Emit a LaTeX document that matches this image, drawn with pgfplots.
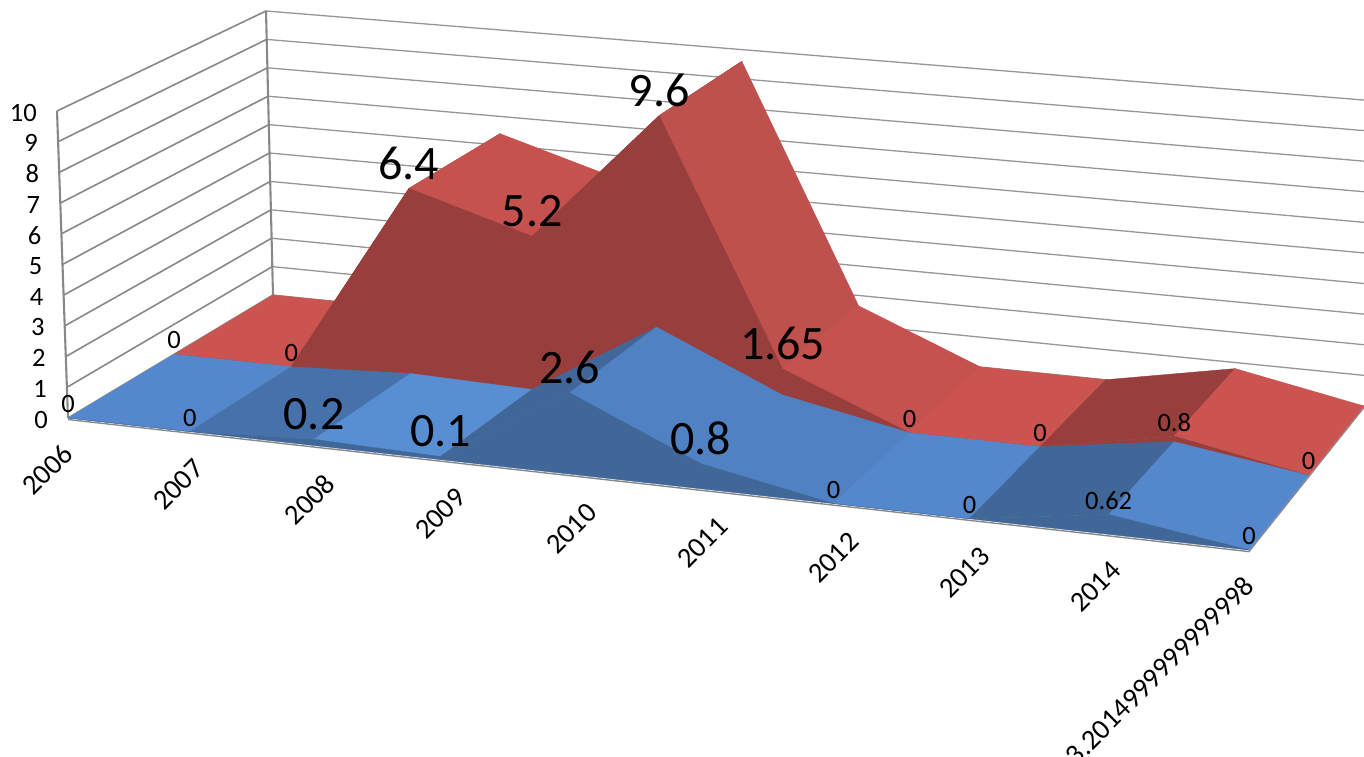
\documentclass[border=0pt]{standalone}
\usepackage{fontspec}
\setmainfont{Carlito}
\usepackage{pgfplots}
\usepackage{pgfplotstable}
\pgfplotsset{compat=1.18}

% values per category; the big columns say which data labels are set large
\pgfplotstableread{
i blue red bluebig redbig
0 0    0    0 0
1 0    0    0 0
2 0.2  6.4  1 1
3 0.1  5.2  1 1
4 2.6  9.6  1 1
5 0.8  1.65 1 1
6 0    0    0 0
7 0    0    0 0
8 0.62 0.8  0 0
9 0    0    0 0
}\chartdata

\definecolor{gridc}{RGB}{150,150,150}
\definecolor{sidec}{RGB}{136,136,136}
\definecolor{rFlat}{RGB}{203,84,80}
\definecolor{rMid}{RGB}{198,82,79}
\definecolor{rDown}{RGB}{190,80,78}
\definecolor{rUp}{RGB}{152,63,62}
\definecolor{bFlat}{RGB}{84,135,203}
\definecolor{bLight}{RGB}{88,142,210}
\definecolor{bDown}{RGB}{80,130,195}
\definecolor{bSoft}{RGB}{70,113,170}
\definecolor{bUp}{RGB}{65,103,153}

% category (0-9), depth (0 front, 1 back), value -> \px \py in picture pixels
\newcommand\proj[3]{%
  \pgfmathsetmacro\uu{#1/9}%
  \pgfmathsetmacro\tu{\uu/(\uu+1.085*(1-\uu))}%
  \pgfmathsetmacro\kaa{(1-\tu)*(1-#2)}%
  \pgfmathsetmacro\kba{\tu*(1-#2)}%
  \pgfmathsetmacro\kab{(1-\tu)*(#2)}%
  \pgfmathsetmacro\kbb{\tu*(#2)}%
  \pgfmathsetmacro\sv{#3/10}%
  \pgfmathsetmacro\px{\kaa*68+\kba*1249+\kab*273+\kbb*1364+\sv*(-11*\kaa+18*\kba-7*\kab+24*\kbb)}%
  \pgfmathsetmacro\py{\kaa*418+\kba*550+\kab*295+\kbb*406-\sv*(307*\kaa+320*\kba+284*\kab+304*\kbb)}%
}
\newcommand\addpt[3]{\proj{#1}{#2}{#3}\xdef\coords{\coords(\px,\py)}}
\newcommand\getval[2]{\pgfplotstablegetelem{#1}{#2}\of\chartdata\let\val\pgfplotsretval}

% top of a ribbon, segment by segment, then its front face
\newcommand\ribbon[5]{% column, front depth, back depth, colours, front colour
  \foreach \j/\col in {#4}{%
    \pgfmathtruncatemacro\jn{\j+1}%
    \getval{\j}{#1}\let\va\val
    \getval{\jn}{#1}\let\vb\val
    \gdef\coords{}%
    \addpt{\j}{#2}{\va}\addpt{\jn}{#2}{\vb}\addpt{\jn}{#3}{\vb}\addpt{\j}{#3}{\va}%
    \edef\temp{\noexpand\addplot[fill=\col,draw=\col,line width=0.4pt] coordinates {\coords} --cycle;}%
    \temp
  }%
  \gdef\coords{}%
  \addpt{0}{#2}{0}%
  \foreach \j in {0,...,9}{\getval{\j}{#1}\addpt{\j}{#2}{\val}}%
  \addpt{9}{#2}{0}%
  \edef\temp{\noexpand\addplot[fill=#5,draw=#5,line width=0.4pt] coordinates {\coords} --cycle;}%
  \temp
}
\newcommand\vlabels[3]{% column, flag column, depth
  \foreach \j in {0,...,9}{%
    \getval{\j}{#1}\let\va\val
    \getval{\j}{#2}\let\vf\val
    \proj{\j}{#3}{\va}%
    \ifnum\vf=1
      \edef\temp{\noexpand\node[inner sep=0pt,yshift=25pt,font=\noexpand\fontsize{48}{48}\noexpand\selectfont] at (axis cs:\px,\py) {\va};}%
    \else
      \edef\temp{\noexpand\node[inner sep=0pt,yshift=14pt,font=\noexpand\fontsize{26.5}{26.5}\noexpand\selectfont] at (axis cs:\px,\py) {\va};}%
    \fi
    \temp
  }%
}

\begin{document}
\begin{tikzpicture}
\path[use as bounding box,clip] (0,0) rectangle (1364pt,756pt);
\begin{axis}[
    at={(0,0)},
    anchor=south west,
    width=1364pt,
    height=756pt,
    scale only axis,
    xmin=0,xmax=1364,
    ymin=0,ymax=756,
    y dir=reverse,
    hide axis,
    clip=true,
]

% walls
\foreach \z in {0,...,10}{%
  \gdef\coords{}\addpt{0}{1}{\z}\addpt{9}{1}{\z}%
  \edef\temp{\noexpand\addplot[gridc,line width=1.3pt] coordinates {\coords};}\temp
  \gdef\coords{}\addpt{0}{0}{\z}\addpt{0}{1}{\z}%
  \edef\temp{\noexpand\addplot[sidec,line width=1.6pt] coordinates {\coords};}\temp
  \proj{0}{0}{\z}%
  \edef\temp{\noexpand\node[anchor=east,inner sep=0pt,xshift=-20pt,yshift=-1.5pt,font=\noexpand\fontsize{26.5}{26.5}\noexpand\selectfont] at (axis cs:\px,\py) {\z};}\temp
}
\gdef\coords{}\addpt{0}{0}{0}\addpt{0}{0}{10}
\edef\temp{\noexpand\addplot[sidec,line width=2.1pt] coordinates {\coords};}\temp
\gdef\coords{}\addpt{0}{1}{0}\addpt{0}{1}{10}
\edef\temp{\noexpand\addplot[sidec,line width=2.1pt] coordinates {\coords};}\temp

% floor edge, just under the ribbons
\gdef\coords{}\addpt{0}{0}{-0.05}\addpt{9}{0}{-0.05}\addpt{9}{0.02}{-0.05}\addpt{9}{1}{-0.05}
\edef\temp{\noexpand\addplot[sidec,line width=1.4pt] coordinates {\coords};}\temp

\ribbon{red}{0.518}{1}{0/rFlat,1/rUp,2/rMid,3/rUp,4/rDown,5/rMid,6/rFlat,7/rUp,8/rFlat}{rUp}
\ribbon{blue}{0}{0.518}{0/bFlat,1/bSoft,2/bLight,3/bUp,4/bDown,5/bDown,6/bFlat,7/bUp,8/bFlat}{bUp}

\vlabels{red}{redbig}{0.518}
\vlabels{blue}{bluebig}{0}

% category labels sit at even steps under the front edge
\foreach \n/\x/\y/\lab in {0/68/449/2006,1/199/464/2007,2/330/479/2008,3/461/493/2009,4/592/508/2010,5/723/522/2011,6/854/537/2012,7/985/552/2013,8/1116/566/2014,9/1249/581/3.2014999999999998}{%
  \edef\temp{\noexpand\node[anchor=east,inner sep=0pt,rotate=45,font=\noexpand\fontsize{28.5}{28.5}\noexpand\selectfont] at (axis cs:\x,\y) {\lab};}\temp
}

\end{axis}
\end{tikzpicture}
\end{document}
